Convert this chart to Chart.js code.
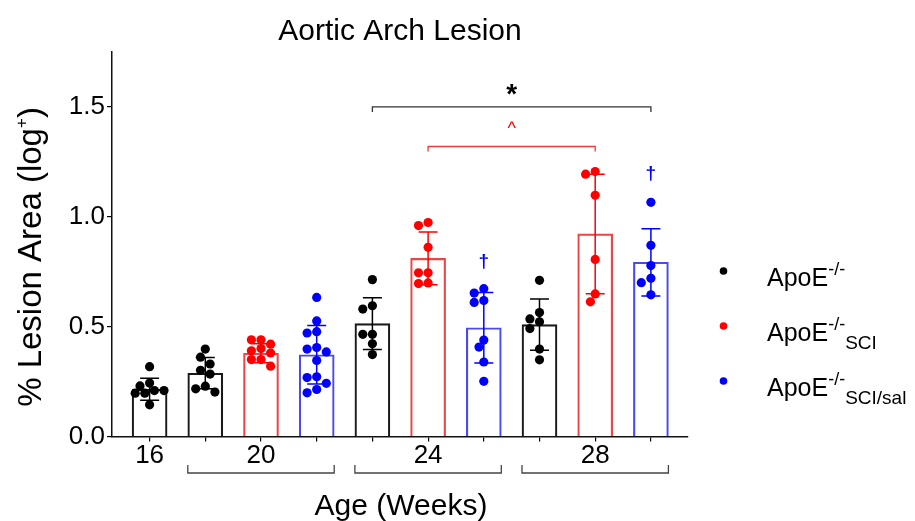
<!DOCTYPE html>
<html>
<head>
<meta charset="utf-8">
<script src="https://cdn.jsdelivr.net/npm/chart.js@4.4.0/dist/chart.umd.min.js"></script>
<style>
  html, body { margin: 0; padding: 0; background: #fff; }
  canvas { display: block; }
</style>
</head>
<body>
<canvas id="lesionChart" width="915" height="521"></canvas>
<script>
// ===== Data =====
const ageLabels = ["16", "20", "24", "28"];
const barAge    = [0, 1, 1, 1, 2, 2, 2, 3, 3, 3];   // index into ageLabels
const barGroup  = [0, 0, 1, 2, 0, 1, 2, 0, 1, 2];   // 0 ApoE-/-, 1 SCI, 2 SCI/sal
const barMeans  = [0.215, 0.288, 0.379, 0.372, 0.514, 0.811, 0.495, 0.509, 0.922, 0.793];
const barSD     = [0.050, 0.071, 0.043, 0.133, 0.118, 0.120, 0.160, 0.117, 0.272, 0.153];
const barPoints = [
  [0.318, 0.243, 0.230, 0.209, 0.209, 0.197, 0.197, 0.144],
  [0.398, 0.361, 0.330, 0.301, 0.284, 0.229, 0.217, 0.202],
  [0.440, 0.440, 0.420, 0.400, 0.390, 0.380, 0.350, 0.350, 0.320],
  [0.633, 0.526, 0.477, 0.471, 0.405, 0.398, 0.385, 0.346, 0.272, 0.268, 0.242, 0.214, 0.199],
  [0.714, 0.595, 0.580, 0.465, 0.465, 0.422, 0.373],
  [0.974, 0.960, 0.861, 0.745, 0.745, 0.699, 0.696],
  [0.673, 0.653, 0.619, 0.610, 0.439, 0.407, 0.339, 0.251],
  [0.711, 0.564, 0.535, 0.522, 0.491, 0.398, 0.349],
  [1.206, 1.194, 1.098, 0.806, 0.649, 0.613],
  [1.066, 0.870, 0.778, 0.720, 0.700, 0.645]
];
const legendSub = ["", "SCI", "SCI/sal"];
const sigBrackets = [
  { from: 4, to: 9, y: 1.50, label: "*", group: 0 },
  { from: 5, to: 8, y: 1.32, label: "^", group: 1 }
];
const daggers = [{ bar: 6, y: 0.80 }, { bar: 9, y: 1.20 }];

// ===== Styles =====
const FONT = "'Liberation Sans', Arial, Helvetica, sans-serif";
const pointColors  = ["#000000", "#ff0000", "#0000ff"];
const borderColors = ["#1a1a1a", "rgb(235,70,70)", "rgb(75,75,235)"];
const BAR_W = 35;
const X_MIN = -0.675, X_MAX = 9.666, Y_MAX = 1.75;
const AREA = { left: 112, right: 688, top: 52, bottom: 436.5 };

// simple beeswarm so dots with close values sit side by side
const pxPerX = (AREA.right - AREA.left) / (X_MAX - X_MIN);
const pxPerY = (AREA.bottom - AREA.top) / Y_MAX;
function swarm(values) {
  const placed = [];
  values.slice().sort((a, b) => b - a).forEach(v => {
    const py = v * pxPerY;
    for (let k = 0; k < 30; k++) {
      const off = (k % 2 ? -1 : 1) * Math.ceil(k / 2) * 4.8;
      if (placed.every(p => Math.hypot(off - p.off, py - p.py) >= 8.4)) {
        placed.push({ v, py, off });
        break;
      }
    }
  });
  return placed;
}

const scatterData = [], scatterColors = [];
barPoints.forEach((vals, i) => {
  swarm(vals).forEach(p => {
    scatterData.push({ x: i + p.off / pxPerX, y: p.v });
    scatterColors.push(pointColors[barGroup[i]]);
  });
});

// ===== helpers =====
function richText(ctx, parts, x, y, align) {
  let w = 0;
  parts.forEach(p => { ctx.font = `${p.bold ? "bold " : ""}${p.size}px ${FONT}`; w += ctx.measureText(p.text).width; });
  let cx = align === "center" ? x - w / 2 : x;
  ctx.textAlign = "left";
  ctx.textBaseline = "alphabetic";
  parts.forEach(p => {
    ctx.font = `${p.bold ? "bold " : ""}${p.size}px ${FONT}`;
    ctx.fillText(p.text, cx, y + (p.dy || 0));
    cx += ctx.measureText(p.text).width;
  });
}

// error bars, brackets, labels, legend
const decorPlugin = {
  id: "decor",
  afterDatasetsDraw(chart) {
    const { ctx, scales: { x, y } } = chart;
    ctx.save();
    // error bars
    barMeans.forEach((m, i) => {
      const px = x.getPixelForValue(i);
      const top = y.getPixelForValue(m + barSD[i]);
      const bot = y.getPixelForValue(m - barSD[i]);
      ctx.strokeStyle = pointColors[barGroup[i]];
      ctx.lineWidth = 1.5;
      ctx.beginPath();
      ctx.moveTo(px, top); ctx.lineTo(px, bot);
      ctx.moveTo(px - 9.5, top); ctx.lineTo(px + 9.5, top);
      ctx.moveTo(px - 9.5, bot); ctx.lineTo(px + 9.5, bot);
      ctx.stroke();
    });
    // significance brackets
    sigBrackets.forEach(b => {
      const x1 = x.getPixelForValue(b.from), x2 = x.getPixelForValue(b.to);
      const by = y.getPixelForValue(b.y);
      ctx.strokeStyle = b.group === 0 ? "#333" : "rgb(232,60,60)";
      ctx.lineWidth = 1.3;
      ctx.beginPath();
      ctx.moveTo(x1, by + 5); ctx.lineTo(x1, by); ctx.lineTo(x2, by); ctx.lineTo(x2, by + 5);
      ctx.stroke();
      ctx.fillStyle = b.group === 0 ? "#000" : "#ff0000";
      ctx.textAlign = "center";
      ctx.textBaseline = "alphabetic";
      if (b.label === "*") {
        ctx.font = `bold 28px ${FONT}`;
        ctx.fillText(b.label, (x1 + x2) / 2, by - 3.5);
      } else {
        ctx.font = `18px ${FONT}`;
        ctx.fillText(b.label, (x1 + x2) / 2, by - 12);
      }
    });
    // daggers
    ctx.fillStyle = "#0000ff";
    ctx.font = `bold 19px ${FONT}`;
    ctx.textAlign = "center";
    daggers.forEach(d => {
      ctx.fillText("\u2020", x.getPixelForValue(d.bar), y.getPixelForValue(d.y) + 6);
    });
    ctx.restore();
  },
  afterDraw(chart) {
    const { ctx, chartArea: ca, scales: { x } } = chart;
    ctx.save();
    ctx.fillStyle = "#000";
    // title
    ctx.font = `30px ${FONT}`;
    ctx.textAlign = "center";
    ctx.textBaseline = "alphabetic";
    ctx.fillText("Aortic Arch Lesion", (ca.left + ca.right) / 2, 40);
    // x title
    ctx.fillText("Age (Weeks)", (ca.left + ca.right) / 2 + 1, 515);
    // y title
    ctx.save();
    ctx.translate(41, 257);
    ctx.rotate(-Math.PI / 2);
    richText(ctx, [
      { text: "% Lesion Area (log", size: 33 },
      { text: "+", size: 17, dy: -14 },
      { text: ")", size: 33 }
    ], 0, 0, "center");
    ctx.restore();
    // age group brackets
    ctx.strokeStyle = "#444";
    ctx.lineWidth = 1.3;
    ageLabels.forEach((a, ai) => {
      const idx = barAge.map((v, i) => v === ai ? i : -1).filter(i => i >= 0);
      if (idx.length < 2) return;
      const x1 = x.getPixelForValue(idx[0]) - BAR_W / 2;
      const x2 = x.getPixelForValue(idx[idx.length - 1]) + BAR_W / 2;
      const by = ca.bottom + 36.5;
      ctx.beginPath();
      ctx.moveTo(x1, by - 8); ctx.lineTo(x1, by); ctx.lineTo(x2, by); ctx.lineTo(x2, by - 8);
      ctx.stroke();
    });
    // legend
    legendSub.forEach((sub, g) => {
      const ly = 271 + g * 55;
      ctx.fillStyle = pointColors[g];
      ctx.beginPath();
      ctx.arc(723.5, ly, 3.8, 0, Math.PI * 2);
      ctx.fill();
      ctx.fillStyle = "#000";
      const parts = [
        { text: "ApoE", size: 25 },
        { text: "-/-", size: 18, dy: -11 }
      ];
      if (sub) parts.push({ text: sub, size: 19, dy: 8 });
      richText(ctx, parts, 767, ly + 14.5, "left");
    });
    ctx.restore();
  }
};

// ===== Chart =====
const ctx = document.getElementById("lesionChart").getContext("2d");
new Chart(ctx, {
  type: "bar",
  data: {
    datasets: [
      {
        type: "scatter",
        data: scatterData,
        pointRadius: 4.6,
        pointBackgroundColor: scatterColors,
        pointBorderWidth: 0,
        order: 1
      },
      {
        type: "bar",
        data: barMeans.map((m, i) => ({ x: i, y: m })),
        backgroundColor: "rgba(255,255,255,0)",
        borderColor: barGroup.map(g => borderColors[g]),
        borderWidth: 1.5,
        barThickness: BAR_W,
        order: 2
      }
    ]
  },
  options: {
    responsive: false,
    animation: false,
    devicePixelRatio: 1,
    layout: { padding: { left: 0, right: 915 - AREA.right, top: AREA.top, bottom: 0 } },
    plugins: { legend: { display: false }, tooltip: { enabled: false }, title: { display: false } },
    scales: {
      x: {
        type: "linear",
        min: X_MIN,
        max: X_MAX,
        offset: false,
        afterFit: s => { s.height = 521 - AREA.bottom; },
        afterBuildTicks: s => { s.ticks = barAge.map((a, i) => ({ value: i })); },
        grid: { offset: false, drawOnChartArea: false, tickLength: 5, color: "#000", lineWidth: 1.2 },
        border: { color: "#111", width: 1.5 },
        ticks: {
          autoSkip: false,
          maxRotation: 0,
          padding: 1,
          color: "#000",
          font: { family: FONT, size: 26, lineHeight: 1 },
          callback: v => {
            const i = Math.round(v);
            const same = barAge.map((a, j) => a === barAge[i] ? j : -1).filter(j => j >= 0);
            return same[Math.floor(same.length / 2)] === i ? ageLabels[barAge[i]] : "";
          }
        }
      },
      y: {
        min: 0,
        max: Y_MAX,
        afterFit: s => { s.width = AREA.left; },
        grid: { drawOnChartArea: false, tickLength: 5, color: "#000", lineWidth: 1.2 },
        border: { color: "#111", width: 1.5 },
        ticks: {
          stepSize: 0.5,
          includeBounds: false,
          padding: 2,
          color: "#000",
          font: { family: FONT, size: 26 },
          callback: v => v.toFixed(1)
        }
      }
    }
  },
  plugins: [decorPlugin]
});
</script>
</body>
</html>
